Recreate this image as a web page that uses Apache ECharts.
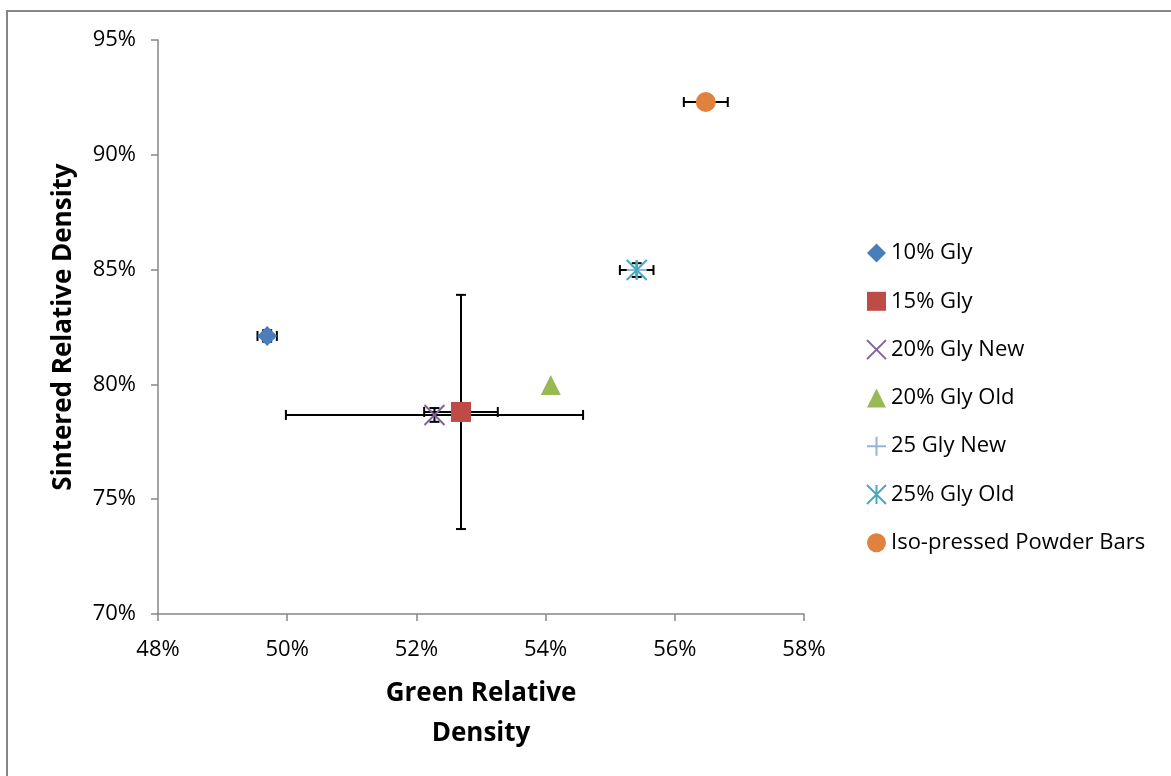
<!DOCTYPE html>
<html>
<head>
<meta charset="utf-8">
<script src="https://cdn.jsdelivr.net/npm/echarts@6/dist/echarts.min.js"></script>
<style>
  html, body { margin: 0; padding: 0; background: #fff; }
  #chart { width: 1171px; height: 776px; }
</style>
</head>
<body>
<div id="chart"></div>
<script>
// series names, in legend order
var names = ['10% Gly', '15% Gly', '20% Gly New', '20% Gly Old', '25 Gly New', '25% Gly Old', 'Iso-pressed Powder Bars'];
// green relative density (%)
var greenDensity = [49.69, 52.69, 52.28, 54.08, 55.41, 55.41, 56.48];
// sintered relative density (%)
var sinteredDensity = [82.11, 78.80, 78.67, 79.97, 84.98, 84.98, 92.30];
// error bar half widths (%)
var xErr = [0.15, 0.57, 2.30, 0, 0, 0.26, 0.34];
var yErr = [0.25, 5.10, 0.30, 0, 0, 0.30, 0];

var colors = ['#4a7ebb', '#be4b48', '#7f62a0', '#98b954', '#95b3d7', '#46aac5', '#e0823d'];
var symbols = [
  'diamond',
  'rect',
  'path://M0,0L10,10M10,0L0,10',
  'triangle',
  'path://M5,0L5,10M0,5L10,5',
  'path://M0,0L10,10M10,0L0,10M5,0L5,10',
  'circle'
];
var lineSymbols = [false, false, true, false, true, true, false];
var sizes = [20, 20, 20, 20, 20, 20, 20];

var font = '"Open Sans", "Liberation Sans", sans-serif';

var chart = echarts.init(document.getElementById('chart'));

// error bars, drawn under the markers
var errData = [];
for (var i = 0; i < names.length; i++) {
  errData.push([greenDensity[i], sinteredDensity[i], xErr[i], yErr[i]]);
}

function renderErr(params, api) {
  var x = api.value(0), y = api.value(1), dx = api.value(2), dy = api.value(3);
  var cap = 5;
  var st = { stroke: '#000', lineWidth: 2 };
  var children = [];
  if (dx > 0) {
    var l = api.coord([x - dx, y]), r = api.coord([x + dx, y]);
    children.push({ type: 'line', shape: { x1: l[0], y1: l[1], x2: r[0], y2: r[1] }, style: st });
    children.push({ type: 'line', shape: { x1: l[0], y1: l[1] - cap, x2: l[0], y2: l[1] + cap }, style: st });
    children.push({ type: 'line', shape: { x1: r[0], y1: r[1] - cap, x2: r[0], y2: r[1] + cap }, style: st });
  }
  if (dy > 0) {
    var t = api.coord([x, y + dy]), b = api.coord([x, y - dy]);
    children.push({ type: 'line', shape: { x1: t[0], y1: t[1], x2: b[0], y2: b[1] }, style: st });
    children.push({ type: 'line', shape: { x1: t[0] - cap, y1: t[1], x2: t[0] + cap, y2: t[1] }, style: st });
    children.push({ type: 'line', shape: { x1: b[0] - cap, y1: b[1], x2: b[0] + cap, y2: b[1] }, style: st });
  }
  return { type: 'group', children: children };
}

var series = [{
  name: 'err',
  type: 'custom',
  renderItem: renderErr,
  data: errData,
  z: 1,
  silent: true
}];

for (var k = 0; k < names.length; k++) {
  series.push({
    name: names[k],
    type: 'scatter',
    symbol: symbols[k],
    symbolSize: sizes[k],
    z: 5,
    itemStyle: lineSymbols[k]
      ? { color: 'transparent', borderColor: colors[k], borderWidth: 2, opacity: 1 }
      : { color: colors[k], opacity: 1 },
    data: [[greenDensity[k], sinteredDensity[k]]]
  });
}

var option = {
  animation: false,
  backgroundColor: '#fff',
  graphic: [{
    type: 'rect',
    shape: { x: 7, y: 11, width: 1200, height: 800 },
    style: { fill: 'none', stroke: '#868686', lineWidth: 2 },
    silent: true
  }],
  grid: { left: 158, right: 367, top: 40, bottom: 162 },
  legend: {
    orient: 'vertical',
    left: 861,
    top: 237,
    data: names,
    itemWidth: 19,
    itemHeight: 19,
    itemGap: 26.3,
    textStyle: { fontFamily: font, fontSize: 22, color: '#000' }
  },
  xAxis: {
    type: 'value',
    min: 48,
    max: 58,
    interval: 2,
    name: 'Green Relative\nDensity',
    nameLocation: 'middle',
    nameGap: 60,
    nameTextStyle: { fontFamily: font, fontSize: 26, fontWeight: 'bold', color: '#000', lineHeight: 40 },
    axisLine: { lineStyle: { color: '#868686', width: 1.5 } },
    axisTick: { length: 7, lineStyle: { color: '#868686', width: 1.5 } },
    splitLine: { show: false },
    axisLabel: {
      margin: 25,
      fontFamily: font,
      fontSize: 22,
      color: '#000',
      formatter: function (v) { return v + '%'; }
    }
  },
  yAxis: {
    type: 'value',
    min: 70,
    max: 95,
    interval: 5,
    name: 'Sintered Relative Density',
    nameLocation: 'middle',
    nameGap: 81,
    nameTextStyle: { fontFamily: font, fontSize: 26, fontWeight: 'bold', color: '#000' },
    axisLine: { show: true, lineStyle: { color: '#868686', width: 1.5 } },
    axisTick: { show: true, length: 7, lineStyle: { color: '#868686', width: 1.5 } },
    splitLine: { show: false },
    axisLabel: {
      margin: 22,
      fontFamily: font,
      fontSize: 22,
      color: '#000',
      formatter: function (v) { return v + '%'; }
    }
  },
  series: series
};

chart.setOption(option);
</script>
</body>
</html>
